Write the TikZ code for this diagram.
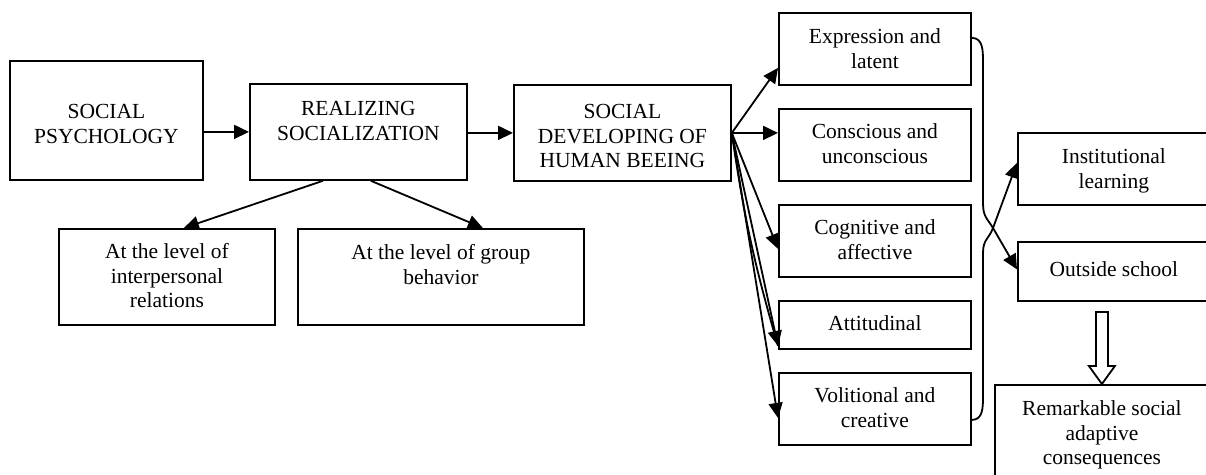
\documentclass[tikz,border=0pt]{standalone}
\usepackage{fontspec}
\setmainfont{Liberation Serif}
\usetikzlibrary{arrows.meta,calc}

\begin{document}
\begin{tikzpicture}[x=1pt,y=-1pt,
  box/.style={draw, line width=1.8pt, inner sep=0pt, align=center,
    anchor=north west, font=\fontsize{21.5}{24.5}\selectfont},
  arr/.style={line width=1.8pt, -{Triangle[length=15pt,width=14pt]}},
  link/.style={line width=1.8pt}]
\useasboundingbox (0,0) rectangle (1206,474);
\clip (0,0) rectangle (1206,474);

% main chain (text height = top of box to the last baseline)
\node[box, minimum width=193pt, text height=82.5pt, text depth=36.5pt] (sp) at (9,60) {SOCIAL\\PSYCHOLOGY};
\node[box, minimum width=217pt, text height=56.5pt, text depth=39.5pt] (rs) at (249,83) {REALIZING\\SOCIALIZATION};
\node[box, minimum width=217pt, text height=83pt, text depth=13pt] (sd) at (513,84) {SOCIAL\\DEVELOPING OF\\HUMAN BEEING};

% levels of socialization
\node[box, minimum width=216pt, text height=79pt, text depth=17pt] (ip) at (58,228) {At the level of\\interpersonal\\relations};
\node[box, minimum width=286pt, text height=55.5pt, text depth=40.5pt] (gb) at (297,228) {At the level of group\\behavior};

% forms of social development
\node[box, minimum width=192pt, text height=55.5pt, text depth=16.5pt] (ex) at (778,12) {Expression and\\latent};
\node[box, minimum width=192pt, text height=54.5pt, text depth=17.5pt] (cc) at (778,108) {Conscious and\\unconscious};
\node[box, minimum width=192pt, text height=54.5pt, text depth=17.5pt] (cg) at (778,204) {Cognitive and\\affective};
\node[box, minimum width=192pt, text height=30pt, text depth=18pt] (att) at (778,300) {Attitudinal};
\node[box, minimum width=192pt, text height=54.5pt, text depth=17.5pt] (vo) at (778,372) {Volitional and\\creative};

% learning settings and outcome
\node[box, minimum width=192pt, text height=55.5pt, text depth=16.5pt] (il) at (1017,132) {Institutional\\learning};
\node[box, minimum width=192pt, text height=35pt, text depth=24pt] (os) at (1017,241) {Outside school};
\node[box, minimum width=214pt, text height=80pt, text depth=41pt] (ra) at (994,384) {Remarkable social\\adaptive\\consequences};

% chain arrows
\draw[arr] (sp.east |- rs.west) -- (rs.west);
\draw[arr] (rs.east |- sd.west) -- (sd.west);
\draw[arr] ([xshift=-35.5pt]rs.south) -- ([xshift=17pt]ip.north);
\draw[arr] ([xshift=12.5pt]rs.south) -- ([xshift=42pt]gb.north);

% fan to the forms
\draw[arr] (sd.east) -- ($(ex.west)+(0,19)$);
\draw[arr] (sd.east) -- (cc.west |- sd.east);
\draw[arr] (sd.east) -- ($(cg.west)+(0,8)$);
\draw[arr] (sd.east) -- ($(att.west)+(0,21)$);
\draw[link] (sd.east) to[bend right=4] ($(att.west)+(0,21)$);
\draw[arr] (sd.east) -- ($(vo.west)+(0,9)$);

% crossing braces
\coordinate (cross) at (993,228);
\draw[arr] ($(ex.east)+(0,-11)$) .. controls +(11,0) and +(0,-12) .. (983,62)
  -- (983,203) .. controls +(0,14) and +(-6,-10) .. (cross)
  -- ($(os.west)+(0,-2)$);
\draw[arr] ($(vo.east)+(0,11)$) .. controls +(11,0) and +(0,12) .. (983,396)
  -- (983,253) .. controls +(0,-14) and +(-4,11) .. (cross)
  -- ($(il.west)+(0,-6)$);

% hollow block arrow to the outcome
\draw[line width=1.8pt, fill=white] (ra.north) -- ++(-13,-18) -- ++(7,0) -- ++(0,-54)
  -- ++(12,0) -- ++(0,54) -- ++(7,0) -- cycle;
\end{tikzpicture}
\end{document}
